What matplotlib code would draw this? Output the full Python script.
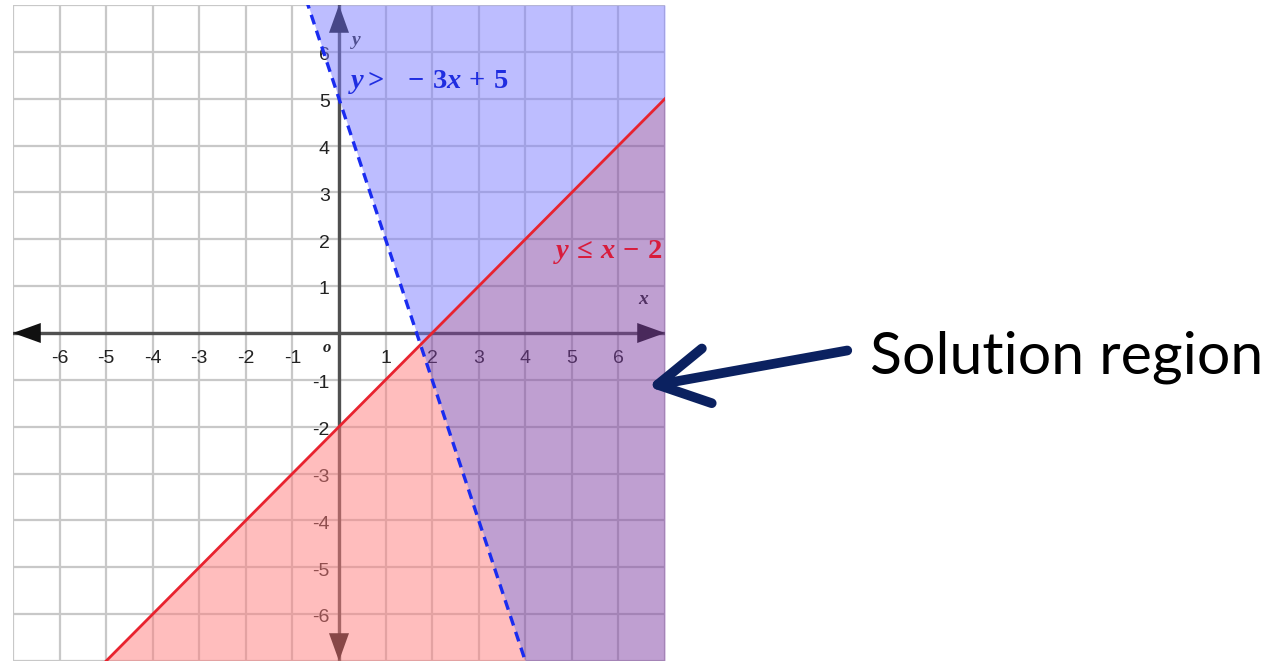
import numpy as np
import matplotlib.pyplot as plt

# inequalities: y > -3x + 5 (dashed, blue)   y <= x - 2 (solid, red)
m_blue, b_blue = -3, 5
m_red, b_red = 1, -2
lim = 7
xticks = [-6, -5, -4, -3, -2, -1, 1, 2, 3, 4, 5, 6]
yticks = [6, 5, 4, 3, 2, 1, -1, -2, -3, -4, -5, -6]

plt.rcParams['mathtext.fontset'] = 'custom'
plt.rcParams['mathtext.rm'] = 'Liberation Serif:bold'
plt.rcParams['mathtext.it'] = 'Liberation Serif:italic:bold'

fig = plt.figure(figsize=(12.78, 6.61), dpi=100)
ax = fig.add_axes([13/1278, 0, 652/1278, 656/661])
ax.set_xlim(-lim, lim)
ax.set_ylim(-lim, lim)

# grid
ax.set_xticks(range(-lim, lim + 1))
ax.set_yticks(range(-lim, lim + 1))
ax.tick_params(length=0, labelbottom=False, labelleft=False)
for s in ax.spines.values():
    s.set_visible(False)
ax.grid(True, color='#c8c8c8', lw=1.6, zorder=0)
ax.set_axisbelow(True)

# axes lines + arrow heads
ax.axhline(0, color='#505050', lw=2.4, zorder=1)
ax.axvline(0, color='#505050', lw=2.4, zorder=1)
ap = dict(arrowstyle='-|>,head_length=1.0,head_width=0.36', color='#111111',
          lw=0, mutation_scale=20, shrinkA=0, shrinkB=0)
for tip, tail in [((lim, 0), (lim - 0.6, 0)), ((-lim, 0), (-lim + 0.6, 0)),
                  ((0, lim), (0, lim - 0.6)), ((0, -lim), (0, -lim + 0.6))]:
    ax.annotate('', xy=tip, xytext=tail, arrowprops=ap, zorder=1)

# tick labels
for t in xticks:
    ax.text(t, -0.55, str(t), ha='center', va='center', fontsize=14,
            family='Liberation Sans', color='#222222', zorder=1)
for t in yticks:
    ax.text(-0.2, t - 0.08, str(t), ha='right', va='center',
            fontsize=14, family='Liberation Sans', color='#222222', zorder=1)
ax.text(-0.25, -0.33, 'o', ha='center', va='center', fontsize=12,
        family='Liberation Serif', style='italic', weight='bold', color='#222222', zorder=1)
ax.text(0.38, 6.25, 'y', ha='center', va='center', fontsize=14,
        family='Liberation Serif', style='italic', weight='bold', color='#222222', zorder=1)
ax.text(6.52, 0.72, 'x', ha='center', va='center', fontsize=14,
        family='Liberation Serif', style='italic', weight='bold', color='#222222', zorder=1)

# shaded regions
x = np.linspace(-lim, lim, 2001)
yb = m_blue * x + b_blue
yr = m_red * x + b_red
ax.fill_between(x, np.maximum(yb, yr), lim, where=np.maximum(yb, yr) < lim,
                color=(125/255, 125/255, 1.0), alpha=0.5, lw=0, zorder=2, interpolate=True)
ax.fill_between(x, -lim, np.minimum(yb, yr), where=np.minimum(yb, yr) > -lim,
                color=(1.0, 125/255, 125/255), alpha=0.5, lw=0, zorder=2, interpolate=True)
ax.fill_between(x, np.clip(yb, -lim, lim), np.clip(yr, -lim, lim), where=yr > yb,
                color=(129/255, 65/255, 165/255), alpha=0.5, lw=0, zorder=2, interpolate=True)

# boundary lines
ax.plot(x, yr, color='#e8232f', lw=2, zorder=3)
ax.plot(x, yb, color='#1a2cf0', lw=2.4, ls=(0, (3, 2)), zorder=3)

# equation labels
ax.text(0.2, 5.36, r'$y >\ \ -\,3x\,+\,5$', ha='left', va='center', fontsize=20.5,
        color='#1f2de0', zorder=4)
ax.text(4.6, 1.72, r'$y\,\leq\,x\,-\,2$', ha='left', va='center', fontsize=20.5,
        color='#d81c3c', zorder=4)

# callout
fig.text(870/1278, 1 - 357/661, 'Solution region', ha='left', va='center',
         fontsize=42.5, family='Lato', color='black')
fig.patches.append(plt.matplotlib.patches.FancyArrowPatch(
    (850/1278, 1 - 350/661), (645/1278, 1 - 387/661), transform=fig.transFigure,
    arrowstyle='->,head_length=0.9,head_width=0.5', mutation_scale=40,
    color='#0b2160', lw=7, capstyle='round', joinstyle='round'))

plt.savefig('out.png', dpi=100)
